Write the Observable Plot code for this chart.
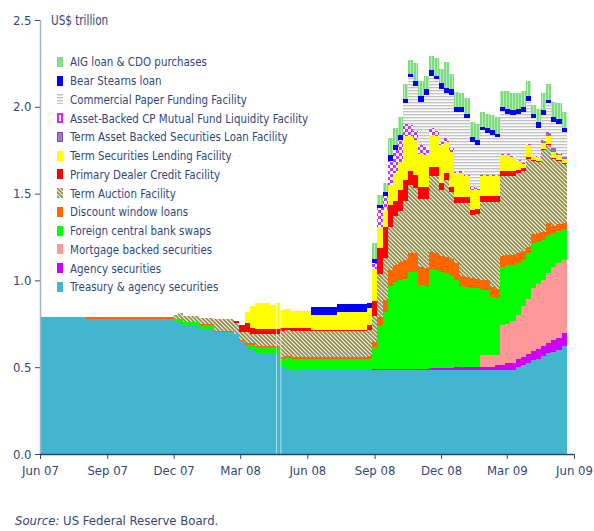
<!DOCTYPE html>
<html><head><meta charset="utf-8">
<script src="https://cdn.jsdelivr.net/npm/d3@7"></script>
<script src="https://cdn.jsdelivr.net/npm/@observablehq/plot@0.6"></script>
<style>
body{margin:0;background:#fff;}
#wrap{position:relative;width:594px;height:531px;overflow:hidden;font-family:"Liberation Sans Narrow","DejaVu Sans Condensed",sans-serif;color:#34477a;}
#chart{position:absolute;left:0;top:0;}
#unit{position:absolute;left:51px;top:12px;font-size:13.5px;transform:scaleX(.86);transform-origin:left center;white-space:nowrap;}
#legend{position:absolute;left:57px;top:52.6px;font-size:13px;}
.row{display:flex;align-items:center;height:18.75px;white-space:nowrap;}
.row svg{margin-right:7px;flex:none;}
.row span{display:inline-block;transform:scaleX(.88);transform-origin:left center;}
#caption{position:absolute;left:15px;top:513px;font-size:13px;white-space:nowrap;}
</style></head>
<body><div id="wrap"><div id="chart"></div><div id="unit">US$ trillion</div><div id="legend"></div><div id="caption"><i>Source:</i> US Federal Reserve Board.</div></div>
<script>
// ---------- data (US$ trillion, weekly from 1 Jun 2007) ----------
const seriesNames = ["Treasury & agency securities","Agency securities","Mortgage backed securities","Foreign central bank swaps","Discount window loans","Term Auction Facility","Primary Dealer Credit Facility","Term Securities Lending Facility","Term Asset Backed Securities Loan Facility","Asset-Backed CP Mutual Fund Liquidity Facility","Commercial Paper Funding Facility","Bear Stearns loan","AIG loan & CDO purchases"];
const startDate = "2007-06-01";
const xTickDates = ["2007-06-01","2007-09-01","2007-12-01","2008-03-01","2008-06-01","2008-09-01","2008-12-01","2009-03-01","2009-06-01"];
const yTicks = [0, 0.5, 1, 1.5, 2, 2.5];
const gapDates = ["2008-04-19","2008-04-25"];

const treasury = [.79,.79,.79,.79,.79,.79,.79,.79,.79,.78,
.78,.78,.78,.78,.78,.78,.78,.78,.78,.78,
.78,.78,.78,.78,.78,.78,.765,.755,.735,.735,
.735,.72,.72,.72,.705,.705,.705,.705,.69,.65,
.61,.60,.58,.58,.58,.58,.57,.50,.49,.484,
.484,.484,.484,.484,.484,.484,.484,.484,.484,.484,
.484,.484,.484,.484,.484,.484,.484,.484,.484,.484,
.484,.484,.484,.484,.484,.484,.484,.484,.484,.484,
.484,.484,.484,.484,.484,.484,.484,.484,.484,.484,
.484,.484,.484,.50,.51,.525,.54,.55,.565,.58,
.59,.60,.62];
const agency = [0,0,0,0,0,0,0,0,0,0, 0,0,0,0,0,0,0,0,0,0, 0,0,0,0,0,0,0,0,0,0, 0,0,0,0,0,0,0,0,0,0,
0,0,0,0,0,0,0,0,0,0, 0,0,0,0,0,0,0,0,0,0,
0,0,0,0,0,.004,.004,.004,.004,.004,
.004,.004,.004,.004,.004,.004,.012,.012,.012,.012,
.012,.016,.016,.016,.016,.016,.02,.02,.02,.03,
.03,.038,.042,.045,.05,.05,.052,.055,.055,.06,
.065,.07,.075];
const mbs = [0,0,0,0,0,0,0,0,0,0, 0,0,0,0,0,0,0,0,0,0, 0,0,0,0,0,0,0,0,0,0, 0,0,0,0,0,0,0,0,0,0,
0,0,0,0,0,0,0,0,0,0, 0,0,0,0,0,0,0,0,0,0, 0,0,0,0,0,0,0,0,0,0, 0,0,0,0,0,0,0,0,0,0,
0,0,0,0,0,0,.066,.064,.064,.056,
.229,.228,.239,.255,.29,.315,.362,.375,.38,.40,
.425,.43,.425];
const swaps = [0,0,0,0,0,0,0,0,0,0, 0,0,0,0,0,0,0,0,0,0,
0,0,0,0,0,0,.01,.02,.024,.024,
.024,.024,.024,.024,0,0,0,0,0,0,
.02,.03,.035,.035,.035,.035,.045,.05,.062,.062,
.062,.062,.062,.062,.062,.062,.062,.062,.062,.062,
.062,.062,.062,.062,.062,.126,.25,.33,.48,.50,
.517,.522,.562,.562,.487,.482,.569,.564,.554,.546,
.529,.50,.467,.46,.455,.455,.375,.377,.338,.328,
.336,.339,.324,.298,.267,.266,.263,.243,.233,.222,
.191,.186,.17];
const discount = [0,0,0,0,0,0,0,0,0,.008,
.008,.008,.008,.008,.008,.008,.008,.008,.008,.008,
.008,.008,.008,.008,.008,.008,.004,.004,.004,.004,
.004,.004,.004,.004,.004,.004,.004,.004,.004,.004,
.01,.01,.01,.01,.01,.01,.01,.01,.015,.015,
.015,.015,.015,.015,.015,.015,.015,.015,.015,.015,
.015,.015,.015,.015,.02,.03,.05,.07,.09,.10,
.10,.11,.11,.11,.10,.10,.10,.10,.09,.09,
.10,.10,.06,.06,.06,.055,.06,.06,.055,.055,
.06,.06,.06,.06,.05,.035,.05,.05,.045,.07,
.04,.04,.04];
const taf = [0,0,0,0,0,0,0,0,0,0, 0,0,0,0,0,0,0,0,0,0,
0,0,0,0,0,0,.02,.035,.03,.03,
.03,.037,.037,.037,.066,.066,.066,.066,.06,.05,
.065,.05,.065,.065,.065,.065,.065,.15,.145,.15,
.15,.15,.15,.15,.15,.15,.15,.15,.15,.15,
.15,.15,.15,.15,.15,.15,.25,.24,.25,.282,
.295,.34,.39,.37,.395,.40,.435,.44,.38,.448,
.385,.345,.418,.425,.362,.37,.445,.445,.489,.497,
.461,.451,.451,.462,.463,.51,.423,.407,.472,.448,
.389,.364,.34];
const pdcf = [0,0,0,0,0,0,0,0,0,0, 0,0,0,0,0,0,0,0,0,0, 0,0,0,0,0,0,0,0,0,0,
0,0,0,0,0,0,0,0,.015,.04,
.05,.035,.03,.03,.03,.03,.03,.015,.013,.012,
.012,.012,.012,.004,.004,.004,.004,.004,.004,.004,
.004,.004,.004,.004,.025,.09,.15,.18,.125,.09,
.12,.12,.08,.075,.07,.07,.055,.055,.04,.04,
.03,.035,.035,.035,.03,.03,.035,.035,.035,.035,
.03,.03,.03,.015,.015,.01,.006,.006,.006,.006,
.005,.005,.005];
const tslf = [0,0,0,0,0,0,0,0,0,0, 0,0,0,0,0,0,0,0,0,0, 0,0,0,0,0,0,0,0,0,0, 0,0,0,0,0,0,0,0,0,0,
.065,.125,.15,.15,.15,.14,.15,.105,.11,.10,
.10,.10,.10,.085,.085,.085,.085,.085,.105,.105,
.105,.105,.105,.105,.10,.18,.12,.10,.117,.16,
.16,.25,.20,.205,.19,.18,.185,.175,.22,.18,
.20,.137,.14,.12,.113,.11,.115,.115,.115,.115,
.09,.09,.08,.055,.025,.07,.024,.024,.034,.044,
.035,.025,.025];
const talf = [0,0,0,0,0,0,0,0,0,0, 0,0,0,0,0,0,0,0,0,0, 0,0,0,0,0,0,0,0,0,0, 0,0,0,0,0,0,0,0,0,0,
0,0,0,0,0,0,0,0,0,0, 0,0,0,0,0,0,0,0,0,0, 0,0,0,0,0,0,0,0,0,0, 0,0,0,0,0,0,0,0,0,0,
0,0,0,0,0,0,0,0,0,0,
0,0,0,0,0,0,0,0,.015,.02,
.02,.01,.01];
const amlf = [0,0,0,0,0,0,0,0,0,0, 0,0,0,0,0,0,0,0,0,0, 0,0,0,0,0,0,0,0,0,0, 0,0,0,0,0,0,0,0,0,0,
0,0,0,0,0,0,0,0,0,0, 0,0,0,0,0,0,0,0,0,0,
0,0,0,0,0,.034,.11,.08,.14,.13,
.13,.07,.065,.05,.05,.05,.04,.03,.02,.02,
.02,.01,.01,.01,.02,.01,.008,.008,.006,.006,
.006,.006,.005,.005,.005,.006,.004,.004,.004,.004,
.003,.003,.003];
const cpff = [0,0,0,0,0,0,0,0,0,0, 0,0,0,0,0,0,0,0,0,0, 0,0,0,0,0,0,0,0,0,0, 0,0,0,0,0,0,0,0,0,0,
0,0,0,0,0,0,0,0,0,0, 0,0,0,0,0,0,0,0,0,0, 0,0,0,0,0,0,0,0,0,0,
0,.12,.275,.26,.25,.30,.30,.30,.30,.26,
.31,.343,.34,.325,.259,.25,.258,.241,.232,.22,
.252,.234,.235,.265,.295,.244,.211,.166,.141,.166,
.147,.167,.142];
const bear = [0,0,0,0,0,0,0,0,0,0, 0,0,0,0,0,0,0,0,0,0, 0,0,0,0,0,0,0,0,0,0, 0,0,0,0,0,0,0,0,0,0,
0,0,0,0,0,0,0,0,0,0,
0,0,0,.045,.045,.045,.045,.045,.045,.045,
.045,.045,.045,.045,.03,.027,.017,.02,.03,.03,
.03,.025,.02,.03,.03,.03,.03,.02,.035,.03,
.03,.028,.028,.025,.029,.029,.019,.028,.028,.017,
.022,.03,.03,.03,.03,.03,.025,.03,.03,.02,
.03,.03,.025];
const aig = [0,0,0,0,0,0,0,0,0,0, 0,0,0,0,0,0,0,0,0,0, 0,0,0,0,0,0,0,0,0,0, 0,0,0,0,0,0,0,0,0,0,
0,0,0,0,0,0,0,0,0,0, 0,0,0,0,0,0,0,0,0,0,
0,0,0,0,0,.09,.055,.055,.10,.10,
.10,.085,.08,.10,.09,.08,.08,.10,.085,.15,
.09,.09,.082,.09,.086,.091,.085,.083,.084,.097,
.09,.10,.10,.09,.09,.09,.05,.08,.10,.09,
.09,.09,.09];

const seriesValues = [treasury, agency, mbs, swaps, discount, taf, pdcf, tslf, talf, amlf, cpff, bear, aig];

// ---------- styles ----------
const fills = ["#41b6cd","#cc00ff","#ff9999","#00ff00","#ff6600","url(#p-taf)","#ff0000","#ffff00","#9966cc","url(#p-amlf)","url(#p-cp)","#0000ff","url(#p-aig)"];
const ink = "#34477a";
const font = '"Liberation Sans Narrow","DejaVu Sans Condensed",sans-serif';

// ---------- build table ----------
const DAY = 864e5;
const t0 = new Date(startDate + "T00:00:00Z").getTime();
const nWeeks = treasury.length;
const dates = d3.range(nWeeks + 1).map(i => new Date(t0 + i * 7 * DAY)); // extra edge closes the last weekly step
const rows = [];
seriesNames.forEach((name, s) => {
  const vals = seriesValues[s];
  dates.forEach((date, i) => rows.push({date, series: name, value: vals[Math.min(i, vals.length - 1)]}));
});
const totals = d3.range(nWeeks).map(i => d3.sum(seriesValues, v => v[i]));
const gaps = gapDates.map(g => {
  const d = new Date(g + "T00:00:00Z");
  const i = Math.floor((d - t0) / (7 * DAY));
  return {date: d, top: totals[i]};
});

const plot = Plot.plot({
  width: 594, height: 500,
  marginTop: 20, marginBottom: 46, marginLeft: 40, marginRight: 20,
  style: {fontFamily: font, fontSize: "13px", color: ink, background: "transparent", overflow: "visible"},
  x: {type: "utc", domain: [new Date(xTickDates[0]), new Date(xTickDates[xTickDates.length - 1])],
      ticks: xTickDates.map(d => new Date(d)), tickFormat: d3.utcFormat("%b %y"), label: null, tickSize: 5, tickPadding: 6},
  y: {domain: [yTicks[0], yTicks[yTicks.length - 1]], ticks: yTicks, tickFormat: d3.format(".1f"), label: null, tickSize: 5, tickPadding: 4},
  color: {domain: seriesNames, range: fills},
  marks: [
    Plot.areaY(rows, Plot.stackY({order: seriesNames}, {x: "date", y: "value", z: "series", fill: "series", curve: "step-after", shapeRendering: "crispEdges"})),
    Plot.ruleX(gaps, {x: "date", y1: 0, y2: "top", stroke: "white", strokeOpacity: 0.6, strokeWidth: 1}),
    Plot.ruleX([new Date(xTickDates[0])], {stroke: "#a3b2c6", strokeWidth: 1.5}),
    Plot.ruleY([0], {stroke: "#2a4478", strokeWidth: 1.5})
  ]
});

const ns = "http://www.w3.org/2000/svg";
const defsSvg = `
<pattern id="p-taf" patternUnits="userSpaceOnUse" width="4" height="4">
  <rect width="4" height="4" fill="#f4f2e2"/>
  <path d="M-1,-1L5,5M-1,3L1,5M3,-1L5,1" stroke="#918b4b" stroke-width="1.6"/>
</pattern>
<pattern id="p-cp" patternUnits="userSpaceOnUse" width="4" height="3">
  <rect width="4" height="3" fill="#fafafa"/>
  <rect width="4" height="1.3" fill="#c2c2c2"/>
</pattern>
<pattern id="p-amlf" patternUnits="userSpaceOnUse" width="6" height="6">
  <rect width="6" height="6" fill="#ffffff"/>
  <rect width="3" height="3" fill="#cc33ff"/>
  <rect x="3" y="3" width="3" height="3" fill="#cc33ff"/>
</pattern>
<pattern id="p-aig" patternUnits="userSpaceOnUse" width="3" height="4">
  <rect width="3" height="4" fill="#7edb7e"/>
  <rect x="2" width="1" height="4" fill="#b6efb6"/>
</pattern>`;
const defs = document.createElementNS(ns, "defs");
defs.innerHTML = defsSvg;
plot.insertBefore(defs, plot.firstChild);
document.getElementById("chart").appendChild(plot);

// ---------- legend ----------
const swatchStyle = {
  "Term Asset Backed Securities Loan Facility": `<rect x="0.5" y="0.5" width="5" height="9" fill="#a374d6" stroke="#7a4fa8"/>`,
  "Asset-Backed CP Mutual Fund Liquidity Facility": `<rect x="1" y="1" width="4" height="8" fill="#fff" stroke="#dd22ff" stroke-width="2"/>`,
  "AIG loan & CDO purchases": `<rect width="6" height="10" fill="#88dd88"/>`
};
const legend = document.getElementById("legend");
seriesNames.slice().reverse().forEach(name => {
  const i = seriesNames.indexOf(name);
  const sw = swatchStyle[name] || `<rect width="6" height="10" fill="${fills[i]}"/>`;
  const row = document.createElement("div");
  row.className = "row";
  row.innerHTML = `<svg width="6" height="10">${sw}</svg><span>${name.replace(/&/g, "&amp;")}</span>`;
  legend.appendChild(row);
});
</script>
</body></html>
